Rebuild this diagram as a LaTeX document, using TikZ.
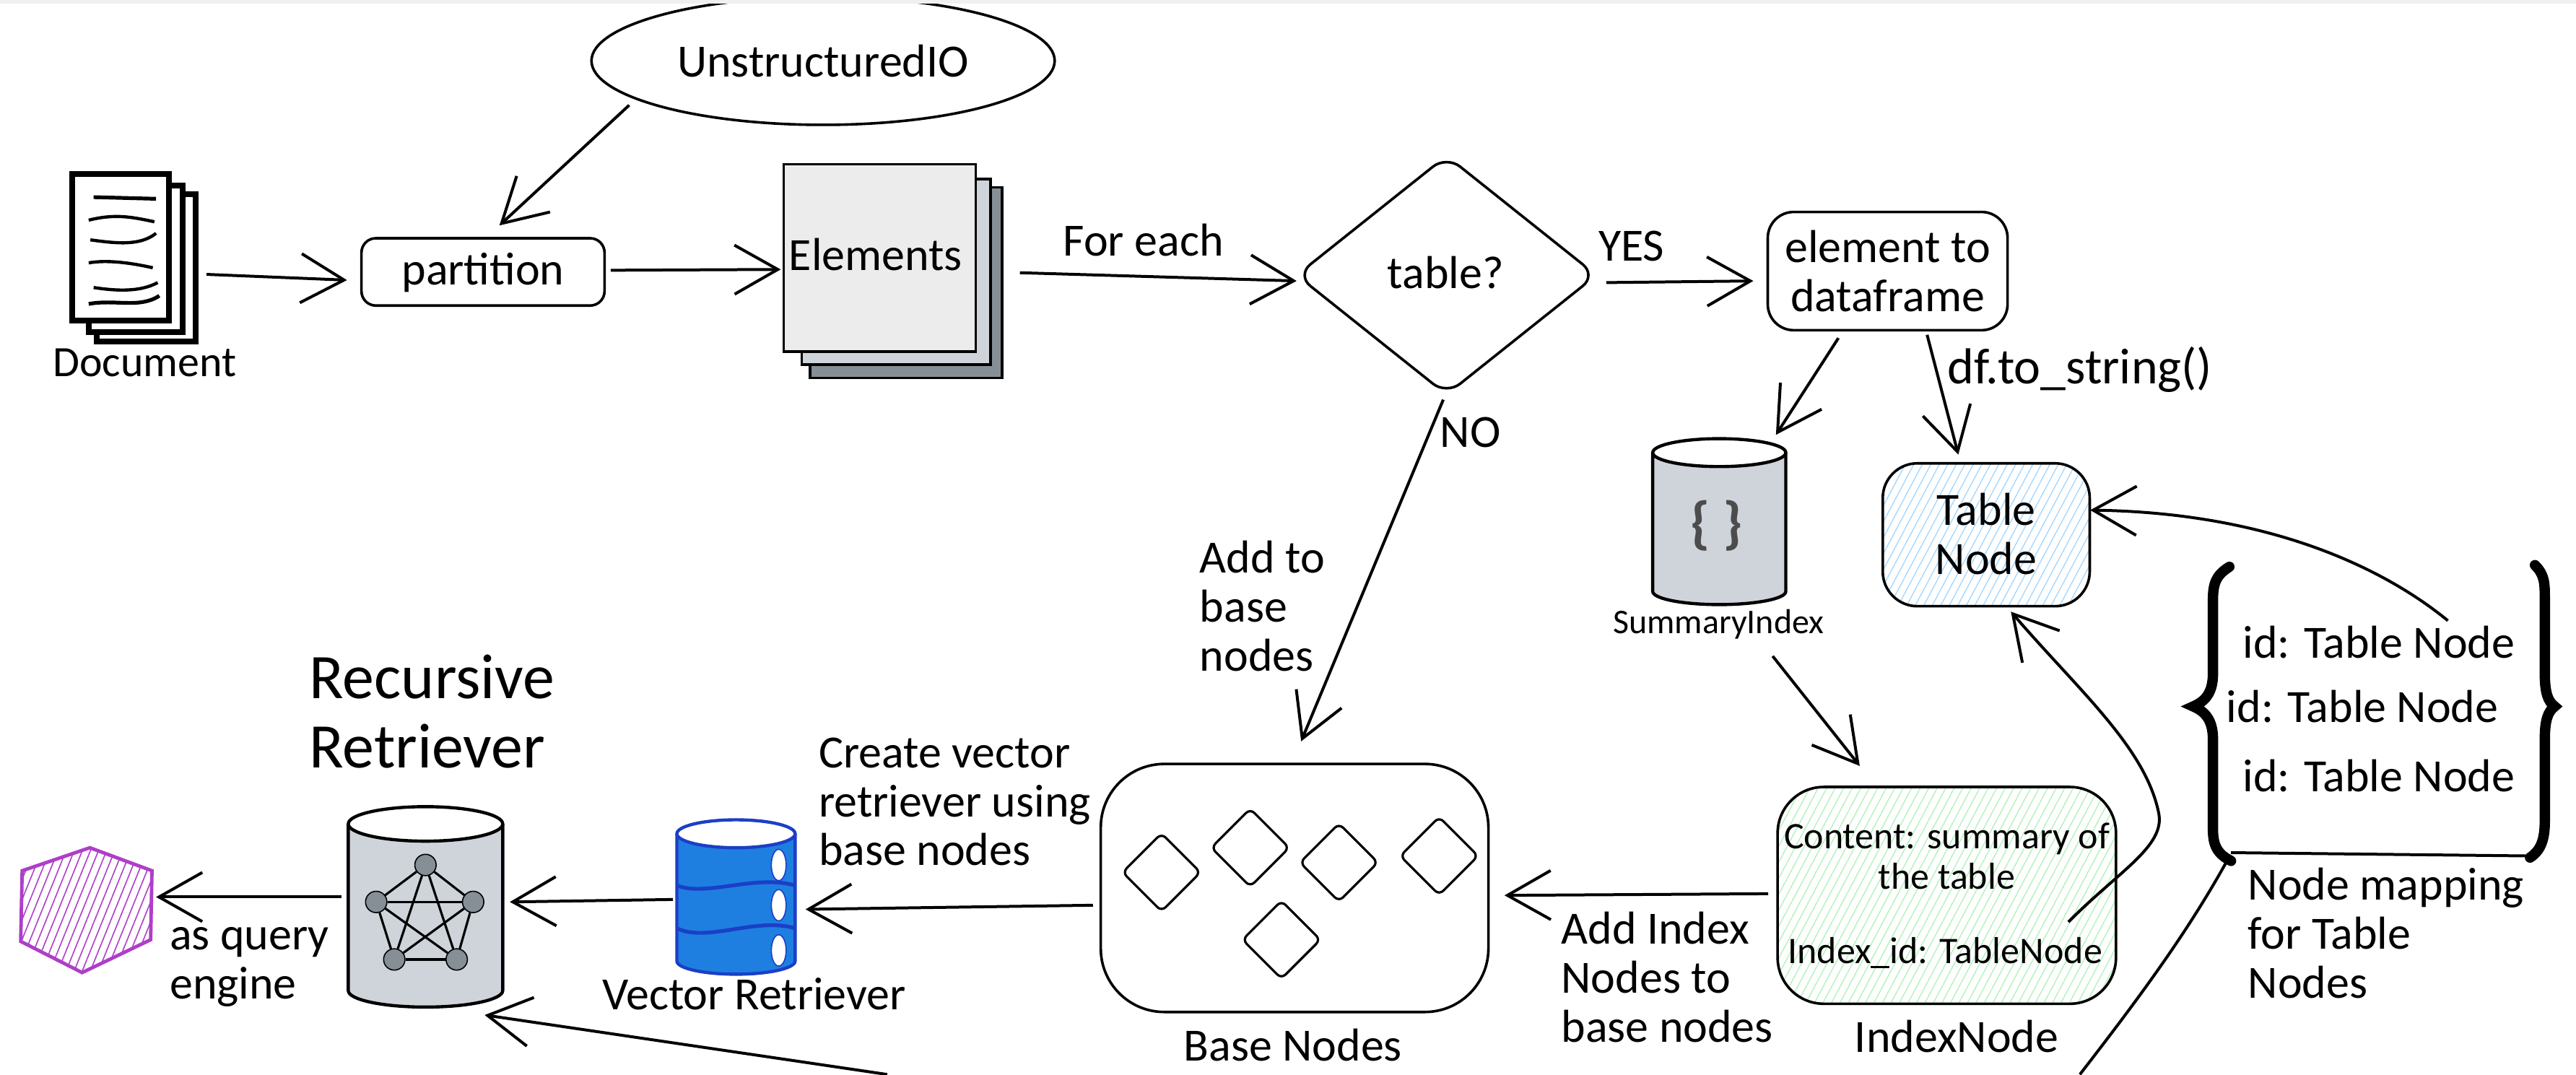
\documentclass[tikz,border=0pt]{standalone}
\usepackage{fontspec}
\setmainfont{Carlito}
\usetikzlibrary{arrows.meta,shapes.geometric,patterns.meta}

\definecolor{paleGray}{HTML}{ECECEC}
\definecolor{midGray}{HTML}{CED4DA}
\definecolor{darkGray}{HTML}{868E96}
\definecolor{hatchBlue}{HTML}{A5D8FF}
\definecolor{hatchGreen}{HTML}{B2F2BB}
\definecolor{hatchPurple}{HTML}{AE3EC9}
\definecolor{barrelBlue}{HTML}{1E7FE0}
\definecolor{barrelEdge}{HTML}{1B3FC6}

\tikzset{
  boxShape/.style={draw, line width=0.9pt, rectangle, inner sep=0pt},
  pageShape/.style={draw, fill=white, line width=2pt, rectangle, inner sep=0pt},
  stackShape/.style={draw, line width=0.9pt, rectangle, inner sep=0pt},
  drumArea/.style={rectangle, inner sep=0pt},
  drumLine/.style={line width=1.1pt},
  smallDiamond/.style={draw, line width=0.8pt, diamond, rounded corners=2pt, minimum width=0.96cm, minimum height=0.96cm, inner sep=0pt},
  netDot/.style={draw, fill=darkGray, circle, minimum size=0.26cm, inner sep=0pt},
  lbl/.style={font=\fontsize{16}{17}\selectfont, align=center, inner sep=0pt},
  lblLeft/.style={font=\fontsize{16}{17}\selectfont, align=left, inner sep=0pt, anchor=west},
  lblSmall/.style={font=\fontsize{13}{14}\selectfont, align=center, inner sep=0pt},
  conn/.style={->, line width=1pt},
  >={Straight Barb[length=15pt,width=17pt]}
}

\begin{document}
\begin{tikzpicture}[yscale=-1, x=0.02cm, y=0.02cm]
    \useasboundingbox (0,0) rectangle (1568,654);

    % Define the positions of the shapes
    \coordinate (unstructuredPos) at (501,37);
    \coordinate (partitionPos) at (294,165.5);
    \coordinate (tablePos) at (880.5,167.5);
    \coordinate (dfPos) at (1149,165);
    \coordinate (summaryPos) at (1046,317.5);
    \coordinate (tableNodePos) at (1209,325.5);
    \coordinate (indexPos) at (1185,545);
    \coordinate (basePos) at (788,540.5);
    \coordinate (vectorPos) at (448,546.5);
    \coordinate (recursivePos) at (259,552);

    % Free ends of connectors
    \coordinate (hexEdge) at (95,546);
    \coordinate (mapCorner) at (1355,525);
    \coordinate (mapTail) at (1266,654);
    \coordinate (retrieverTail) at (540,654);

    % Document pages
    \node[pageShape, minimum width=1.2cm, minimum height=1.8cm] (docC) at (89,163) {};
    \node[pageShape, minimum width=1.14cm, minimum height=1.78cm] (docB) at (82.5,157.5) {};
    \node[pageShape, minimum width=1.18cm, minimum height=1.78cm] (docA) at (73.5,150.5) {};
    \draw[line width=1.3pt] (57,120) -- (95,121);
    \draw[line width=1.1pt] (54,134) .. controls (70,130) and (80,132) .. (94,135);
    \draw[line width=1.1pt] (55,146) .. controls (70,148) and (85,150) .. (95,142);
    \draw[line width=1.1pt] (54,160) .. controls (65,158) and (80,160) .. (93,163);
    \draw[line width=1.1pt] (57,175) .. controls (70,177) and (85,178) .. (96,172);
    \draw[line width=1.3pt] (54,185) .. controls (70,182) and (85,188) .. (97,180);

    % Element pages
    \node[stackShape, fill=darkGray, minimum width=2.34cm, minimum height=2.32cm] (elemC) at (551.5,172) {};
    \node[stackShape, fill=midGray, minimum width=2.3cm, minimum height=2.26cm] (elemB) at (545.5,165.5) {};
    \node[stackShape, fill=paleGray, minimum width=2.34cm, minimum height=2.28cm] (elemA) at (535.5,157) {};

    % Draw the shapes
    \node[boxShape, ellipse, minimum width=5.64cm, minimum height=1.56cm] (unstructured) at (unstructuredPos) {};
    \node[boxShape, rounded corners=5pt, minimum width=2.96cm, minimum height=0.82cm] (partition) at (partitionPos) {};
    \node[boxShape, diamond, rounded corners=6pt, minimum width=3.66cm, minimum height=2.92cm] (table) at (tablePos) {};
    \node[boxShape, rounded corners=9pt, minimum width=2.92cm, minimum height=1.44cm] (df) at (dfPos) {};
    \node[boxShape, rounded corners=12pt, pattern={Lines[angle=62,distance=2.6pt,line width=.35pt]}, pattern color=hatchBlue, minimum width=2.52cm, minimum height=1.74cm] (tableNode) at (tableNodePos) {};
    \node[boxShape, rounded corners=16pt, pattern={Lines[angle=62,distance=2.6pt,line width=.35pt]}, pattern color=hatchGreen, minimum width=4.12cm, minimum height=2.64cm] (index) at (indexPos) {};
    \node[boxShape, rounded corners=22pt, minimum width=4.72cm, minimum height=3.02cm] (base) at (basePos) {};

    % Summary drum
    \node[drumArea, minimum width=1.62cm, minimum height=2.02cm] (summary) at (summaryPos) {};
    \draw[drumLine, fill=midGray] (1006,275.5) -- (1006,360) arc[start angle=180, end angle=0, x radius=40.5, y radius=8] -- (1087,275.5);
    \draw[drumLine, fill=white] (1046.5,275.5) ellipse [x radius=40.5, y radius=8.5];

    % Vector drum
    \node[drumArea, minimum width=1.44cm, minimum height=1.86cm] (vector) at (vectorPos) {};
    \draw[drumLine, draw=barrelEdge, fill=barrelBlue] (412,507.5) -- (412,585) arc[start angle=180, end angle=0, x radius=36, y radius=8] -- (484,507.5);
    \draw[drumLine, draw=barrelEdge, fill=white] (448,507.5) ellipse [x radius=36, y radius=8.5];

    % Recursive drum
    \node[drumArea, minimum width=1.88cm, minimum height=2.42cm] (recursive) at (recursivePos) {};
    \draw[drumLine, fill=midGray] (212,501.5) -- (212,603) arc[start angle=180, end angle=0, x radius=47, y radius=10] -- (306,501.5);
    \draw[drumLine, fill=white] (259,501.5) ellipse [x radius=47, y radius=10.5];

    % Small diamonds in the base nodes
    \node[smallDiamond] (baseA) at (707,531) {};
    \node[smallDiamond] (baseB) at (761,516) {};
    \node[smallDiamond] (baseC) at (815,525) {};
    \node[smallDiamond] (baseD) at (876,521) {};
    \node[smallDiamond] (baseE) at (780,572) {};

    % Vector bands and holes
    \draw[barrelEdge, line width=1.3pt] (412,539) .. controls (430,546) and (460,532) .. (484,539);
    \draw[barrelEdge, line width=1.3pt] (412,565) .. controls (430,574) and (460,558) .. (484,565);
    \node[draw=barrelEdge, fill=white, ellipse, minimum width=0.18cm, minimum height=0.38cm, inner sep=0pt] (holeA) at (474,526.5) {};
    \node[draw=barrelEdge, fill=white, ellipse, minimum width=0.18cm, minimum height=0.38cm, inner sep=0pt] (holeB) at (474,551) {};
    \node[draw=barrelEdge, fill=white, ellipse, minimum width=0.18cm, minimum height=0.38cm, inner sep=0pt] (holeC) at (474,578.5) {};

    % Network in the recursive retriever
    \node[netDot] (netA) at (259,526.5) {};
    \node[netDot] (netB) at (229,549) {};
    \node[netDot] (netC) at (288,549) {};
    \node[netDot] (netD) at (240,584) {};
    \node[netDot] (netE) at (278,584) {};
    \draw[line width=0.8pt] (netA) -- (netB);
    \draw[line width=0.8pt] (netA) -- (netC);
    \draw[line width=0.8pt] (netA) -- (netD);
    \draw[line width=0.8pt] (netA) -- (netE);
    \draw[line width=0.8pt] (netB) -- (netC);
    \draw[line width=0.8pt] (netB) -- (netD);
    \draw[line width=0.8pt] (netB) -- (netE);
    \draw[line width=0.8pt] (netC) -- (netD);
    \draw[line width=0.8pt] (netC) -- (netE);
    \draw[line width=0.8pt] (netD) -- (netE);

    % Hexagon
    \draw[draw=hatchPurple, line width=1.2pt, pattern={Lines[angle=68,distance=2.6pt,line width=.4pt]}, pattern color=hatchPurple]
        (54.7,516) -- (92.5,530) -- (91.7,572) -- (50,592) -- (12.6,573) -- (13.5,530) -- cycle;

    % Draw the labels
    \node[lbl] (unstructuredLbl) at (501,37) {UnstructuredIO};
    \node[lbl, font=\fontsize{15}{17}\selectfont] (documentLbl) at (88,221) {Document};
    \node[lbl] (partitionLbl) at (294,166) {partition};
    \node[lbl] (elementsLbl) at (533,155) {Elements};
    \node[lbl] (forEachLbl) at (696,146) {For each};
    \node[lbl] (tableLbl) at (880,166) {table?};
    \node[lbl] (yesLbl) at (993,150) {YES};
    \node[lbl] (dfLbl) at (1149,165) {element to\\dataframe};
    \node[lbl, font=\fontsize{17.5}{17}\selectfont] (toStringLbl) at (1266,225) {df.to\_string()};
    \node[lbl] (noLbl) at (895,263) {NO};
    \node[lblLeft] (addBaseLbl) at (730,369) {Add to\\base\\nodes};
    \node[lbl, font=\bfseries\fontsize{20}{20}\selectfont, text=black!70] (bracesLbl) at (1045,320) {\{ \}};
    \node[lblSmall, font=\fontsize{12}{14}\selectfont] (summaryLbl) at (1046,380) {SummaryIndex};
    \node[lbl] (tableNodeLbl) at (1209,325) {Table\\Node};
    \node[lbl] (idOne) at (1448,391) {id: Table Node};
    \node[lbl] (idTwo) at (1438,430) {id: Table Node};
    \node[lbl] (idThree) at (1448,472) {id: Table Node};
    \node[lblLeft] (mappingLbl) at (1368,568) {Node mapping\\for Table\\Nodes};
    \node[lblSmall] (contentLbl) at (1185,521) {Content: summary of\\the table};
    \node[lblSmall] (indexIdLbl) at (1184,580) {Index\_id: TableNode};
    \node[lbl] (indexLbl) at (1191,631) {IndexNode};
    \node[lblLeft] (addIndexLbl) at (950,595) {Add Index\\Nodes to\\base nodes};
    \node[lbl] (baseLbl) at (787,636) {Base Nodes};
    \node[lblLeft] (createLbl) at (498,488) {Create vector\\retriever using\\base nodes};
    \node[lbl] (vectorLbl) at (459,605) {Vector Retriever};
    \node[lblLeft] (queryLbl) at (103,588.5) {as query\\engine};
    \node[lblLeft, font=\fontsize{22}{24}\selectfont] (recursiveLbl) at (188,433) {Recursive\\Retriever};

    % Brace of the node mapping
    \draw[line width=3.6pt, line cap=round] (1357,345) .. controls (1349,350) and (1347,355) .. (1347,365)
        -- (1347,410) .. controls (1347,422) and (1342,427) .. (1335,430)
        .. controls (1342,433) and (1347,438) .. (1347,450)
        -- (1347,505) .. controls (1347,515) and (1350,520) .. (1358,524);
    \draw[line width=3.6pt, line cap=round] (1543,344) .. controls (1549,350) and (1549,355) .. (1549,365)
        -- (1549,410) .. controls (1549,422) and (1551,427) .. (1555,430)
        .. controls (1551,433) and (1549,438) .. (1549,450)
        -- (1549,500) .. controls (1549,512) and (1546,518) .. (1540,522);
    \draw[line width=1pt] (1358,519) -- (1540,521);

    % Draw the connectors
    \draw[conn] ([shift={(5,4)}]docC.east) -- ([shift={(-8,5)}]partition.west);
    \draw[conn] ([shift={(-118,27)}]unstructured.center) -- ([shift={(10,-7)}]partition.north);
    \draw[conn] ([shift={(3,-1)}]partition.east) -- ([shift={(-1,7)}]elemA.west);
    \draw[conn] ([shift={(10,-6)}]elemC.east) -- ([shift={(1,3.5)}]table.west);
    \draw[conn] ([shift={(5,4.5)}]table.east) -- ([shift={(-8,6)}]df.west);
    \draw[conn] ([shift={(-30,4)}]df.south) -- ([shift={(35,-2)}]summary.north);
    \draw[conn] ([shift={(24,2)}]df.south) -- ([shift={(-17,-5)}]tableNode.north);
    \draw[conn] ([shift={(-2,2)}]table.south) -- ([shift={(4,-13)}]base.north);
    \draw[conn] ([shift={(33,10)}]summaryLbl.south) -- ([shift={(-53,-12)}]index.north);
    \draw[conn] ([shift={(-5,-1)}]index.west) -- ([shift={(9,4.5)}]base.east);
    \draw[conn] ([shift={(-4,10.5)}]base.west) -- ([shift={(6,7)}]vector.east);
    \draw[conn] ([shift={(-2,1)}]vector.west) -- ([shift={(4,-3)}]recursive.east);
    \draw[conn] ([shift={(-4,-6)}]recursive.west) -- (hexEdge);
    \draw[conn] (retrieverTail) -- ([shift={(36,5)}]recursive.south);
    \draw[conn] ([shift={(42,-3)}]idOne.north) .. controls (1450,345) and (1380,312) .. ([shift={(0,-15)}]tableNode.east);
    \draw[conn] ([shift={(75,-9)}]indexIdLbl.north) .. controls (1290,530) and (1318,515) .. (1314,495)
        .. controls (1306,455) and (1265,420) .. ([shift={(15,3)}]tableNode.south);
    \draw[line width=1pt] (mapCorner) .. controls (1330,570) and (1300,610) .. (mapTail);

    % Strip along the top edge
    \fill[black!6] (0,0) rectangle (1568,2);
\end{tikzpicture}
\end{document}
